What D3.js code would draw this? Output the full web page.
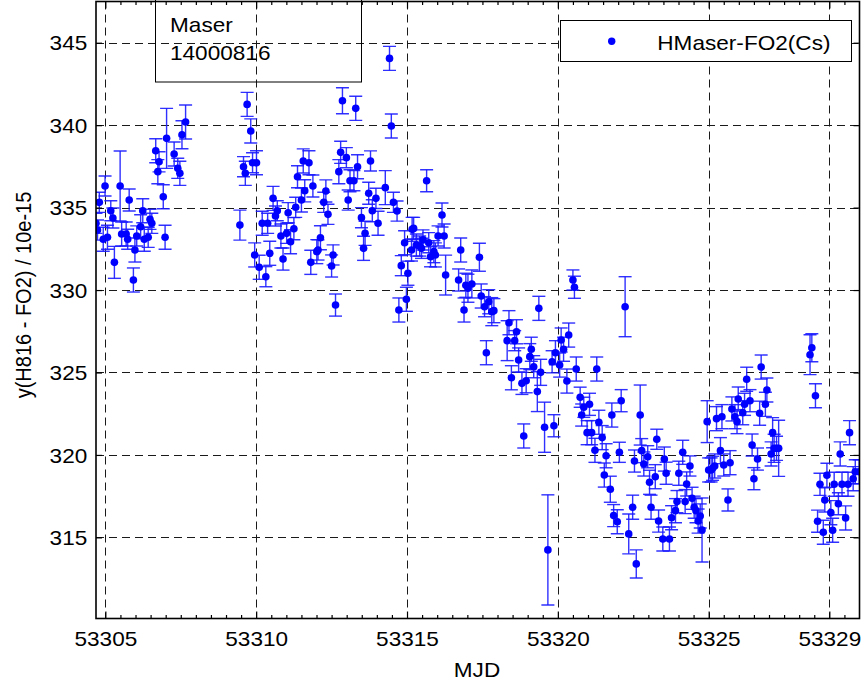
<!DOCTYPE html>
<html>
<head>
<meta charset="utf-8">
<script src="https://cdn.jsdelivr.net/npm/d3@7"></script>
<style>
  body { margin: 0; background: #fff; }
  svg { display: block; }
  text { font-family: "Liberation Sans", Arial, Helvetica, sans-serif; fill: #000; }
</style>
</head>
<body>
<svg id="chart" width="864" height="686"></svg>
<script>
// Observation epochs (MJD)
const mjd = [
  53304.69, 53304.74, 53304.80, 53304.93, 53304.99, 53305.07, 53305.18, 53305.25, 53305.30, 53305.49,
  53305.54, 53305.69, 53305.74, 53305.79, 53305.93, 53305.98, 53306.04, 53306.17, 53306.24, 53306.29,
  53306.42, 53306.48, 53306.54, 53306.67, 53306.74, 53306.78, 53306.92, 53306.98, 53307.03, 53307.28,
  53307.40, 53307.47, 53307.54, 53307.66, 53309.46, 53309.58, 53309.64, 53309.70, 53309.82, 53309.88,
  53309.95, 53310.01, 53310.10, 53310.20, 53310.32, 53310.38, 53310.45, 53310.56, 53310.64, 53310.70,
  53310.82, 53310.89, 53311.01, 53311.06, 53311.14, 53311.25, 53311.31, 53311.37, 53311.50, 53311.56,
  53311.61, 53311.75, 53311.81, 53311.88, 53312.01, 53312.05, 53312.13, 53312.24, 53312.31, 53312.38,
  53312.50, 53312.55, 53312.63, 53312.74, 53312.80, 53312.86, 53312.99, 53313.05, 53313.11, 53313.24,
  53313.30, 53313.36, 53313.49, 53313.56, 53313.61, 53313.73, 53313.79, 53313.85, 53313.97, 53314.04,
  53314.28, 53314.42, 53314.48, 53314.55, 53314.67, 53314.73, 53314.81, 53314.92, 53314.98, 53315.03,
  53315.17, 53315.15, 53315.22, 53315.31, 53315.42, 53315.48, 53315.53, 53315.65, 53315.72, 53315.78,
  53315.89, 53315.94, 53316.03, 53316.16, 53316.23, 53316.28, 53316.71, 53316.78, 53316.89, 53316.95,
  53317.02, 53317.15, 53317.40, 53317.46, 53317.57, 53317.63, 53317.71, 53317.81, 53317.88, 53318.32,
  53318.38, 53318.46, 53318.57, 53318.63, 53318.70, 53318.81, 53318.87, 53318.95, 53319.07, 53319.12,
  53319.20, 53319.32, 53319.37, 53319.43, 53319.56, 53319.67, 53319.81, 53319.87, 53319.92, 53320.06,
  53320.11, 53320.19, 53320.30, 53320.36, 53320.50, 53320.55, 53320.61, 53320.74, 53320.79, 53320.86,
  53320.97, 53321.05, 53321.12, 53321.23, 53321.29, 53321.36, 53321.47, 53321.54, 53321.60, 53321.74,
  53321.79, 53321.85, 53321.97, 53322.04, 53322.10, 53322.23, 53322.35, 53322.48, 53322.54, 53322.60,
  53322.73, 53322.78, 53322.85, 53322.98, 53323.04, 53323.09, 53323.23, 53323.28, 53323.34, 53323.48,
  53323.53, 53323.59, 53323.70, 53323.77, 53323.90, 53323.95, 53324.01, 53324.14, 53324.22, 53324.27,
  53324.38, 53324.45, 53324.52, 53324.58, 53324.65, 53324.72, 53324.78, 53324.95, 53325.00, 53325.08,
  53325.13, 53325.20, 53325.26, 53325.39, 53325.44, 53325.50, 53325.64, 53325.71, 53325.77, 53325.87,
  53325.94, 53325.98, 53326.13, 53326.19, 53326.26, 53326.37, 53326.44, 53326.50, 53326.62, 53326.69,
  53326.74, 53326.88, 53326.93, 53327.07, 53327.12, 53327.17, 53327.25, 53327.32, 53328.36, 53328.42,
  53328.54, 53328.61, 53328.69, 53328.80, 53328.85, 53328.92, 53329.05, 53329.11, 53329.16, 53329.30,
  53329.36, 53329.42, 53329.54, 53329.62, 53329.67, 53329.79, 53329.86, 53329.99
];

// Fractional frequency offset H816 - FO2, in units of 1e-15
const dev = [
  334.05, 333.64, 335.32, 333.08, 336.31, 333.20, 334.81, 334.37, 331.68, 336.31,
  333.40, 333.40, 333.08, 335.46, 330.61, 332.43, 333.28, 333.84, 334.81, 333.08,
  333.20, 334.29, 334.05, 338.45, 337.18, 337.78, 335.66, 333.20, 339.20, 338.25,
  337.38, 337.08, 339.42, 340.19, 333.94, 337.48, 337.08, 341.26, 339.65, 337.72,
  332.13, 337.72, 331.38, 334.05, 330.81, 334.05, 332.23, 335.56, 334.49, 334.81,
  333.28, 331.88, 333.44, 334.69, 332.93, 333.72, 335.02, 336.87, 335.46, 337.83,
  336.02, 337.72, 331.68, 336.31, 332.33, 332.43, 333.17, 335.32, 336.01, 334.59,
  331.46, 332.13, 329.09, 337.18, 338.35, 341.48, 338.03, 335.46, 336.63, 336.63,
  341.02, 337.48, 334.39, 332.53, 333.44, 335.87, 337.83, 334.81, 335.56, 334.05,
  336.21, 344.05, 339.95, 335.32, 334.79, 328.79, 331.48, 332.87, 329.44, 331.02,
  333.68, 332.43, 333.74, 332.73, 332.67, 332.53, 333.04, 336.63, 332.87, 332.02,
  332.33, 332.13, 333.28, 334.55, 333.28, 330.91, 330.61, 332.43, 328.79, 330.29,
  330.11, 330.37, 331.99, 329.64, 328.99, 326.20, 329.29, 328.69, 328.75, 326.93,
  328.02, 324.68, 326.93, 327.47, 325.76, 324.34, 321.15, 324.50, 325.96, 326.41,
  325.35, 323.84, 328.89, 325.01, 321.68, 314.24, 325.65, 321.77, 326.20, 325.45,
  326.97, 326.41, 324.48, 327.27, 330.61, 330.17, 325.21, 323.50, 322.42, 322.89,
  321.35, 323.07, 321.35, 320.28, 325.21, 321.98, 321.05, 318.78, 319.95, 317.92,
  322.42, 316.32, 315.95, 320.16, 323.29, 328.99, 315.21, 316.83, 319.63, 313.39,
  322.42, 320.26, 319.45, 319.89, 318.34, 316.83, 318.68, 320.95, 315.99, 314.90,
  319.75, 318.89, 314.90, 316.19, 316.62, 317.17, 318.89, 320.16, 317.17, 318.24,
  319.33, 317.37, 316.83, 316.62, 315.99, 316.30, 315.45, 322.02, 319.09, 319.09,
  319.19, 319.33, 322.20, 320.26, 322.32, 319.39, 317.27, 319.53, 322.79, 322.32,
  322.02, 323.39, 322.56, 323.07, 324.59, 323.29, 320.60, 318.56, 319.75, 322.53,
  325.33, 323.07, 323.94, 320.06, 321.35, 320.40, 320.40, 320.40, 326.08, 326.50,
  323.59, 315.98, 318.22, 315.31, 317.27, 318.77, 316.50, 315.43, 318.22, 317.04,
  320.06, 318.22, 316.18, 318.22, 321.35, 318.56, 318.98, 318.98
];

// One-sigma uncertainty of each value (1e-15)
const err = [
  0.61, 0.61, 0.61, 0.73, 0.61, 0.73, 0.61, 0.61, 0.97, 2.12,
  0.73, 0.73, 0.61, 0.67, 0.73, 0.73, 0.61, 0.73, 0.73, 0.73,
  0.61, 0.61, 0.61, 0.73, 0.73, 0.61, 0.73, 0.73, 1.82, 0.73,
  0.61, 0.73, 0.85, 1.03, 0.91, 0.61, 0.73, 0.73, 0.73, 0.61,
  0.73, 0.73, 0.73, 0.73, 0.61, 0.61, 0.73, 0.73, 0.61, 0.61,
  0.73, 0.67, 0.61, 0.61, 0.73, 0.67, 0.61, 0.67, 0.73, 0.73,
  0.67, 0.73, 0.73, 0.67, 0.73, 0.61, 0.73, 0.61, 0.67, 0.61,
  0.67, 0.61, 0.67, 0.73, 0.67, 0.79, 0.61, 0.61, 0.67, 0.61,
  0.73, 0.73, 0.61, 0.73, 0.73, 0.67, 0.61, 0.67, 0.61, 0.73,
  1.03, 0.73, 0.73, 0.61, 0.61, 0.73, 0.61, 0.73, 0.73, 0.73,
  0.73, 0.67, 0.67, 0.67, 0.61, 0.61, 0.61, 0.67, 0.61, 0.61,
  0.67, 0.73, 0.61, 0.73, 0.73, 1.21, 0.67, 0.73, 0.73, 0.73,
  0.85, 0.85, 0.85, 0.73, 0.61, 0.73, 0.73, 0.85, 0.73, 1.21,
  0.73, 0.73, 0.61, 0.73, 0.73, 0.67, 0.73, 0.73, 0.79, 0.73,
  0.67, 1.21, 0.73, 0.79, 1.52, 3.34, 0.67, 0.67, 0.73, 0.73,
  0.73, 0.73, 0.73, 0.73, 0.61, 0.67, 0.73, 0.61, 0.67, 0.61,
  0.73, 0.67, 0.73, 0.73, 0.73, 0.73, 0.73, 0.73, 0.73, 0.79,
  0.73, 0.67, 0.73, 0.61, 0.67, 1.82, 1.21, 0.73, 0.67, 0.85,
  1.82, 0.73, 0.73, 0.67, 0.73, 0.73, 0.73, 0.61, 0.67, 0.73,
  0.73, 0.67, 0.73, 0.73, 0.73, 0.67, 0.73, 0.73, 0.73, 0.73,
  0.61, 0.67, 0.67, 0.73, 0.73, 0.73, 1.94, 1.27, 0.73, 0.73,
  0.73, 0.73, 0.73, 0.79, 0.73, 0.67, 0.67, 0.73, 0.73, 0.73,
  0.73, 0.73, 0.73, 0.67, 0.73, 0.67, 0.67, 0.67, 0.67, 0.73,
  0.73, 0.73, 0.73, 0.73, 0.91, 0.85, 0.73, 1.70, 1.21, 0.85,
  0.73, 0.67, 0.67, 0.73, 0.73, 0.73, 0.73, 0.73, 0.73, 0.67,
  0.73, 0.73, 0.73, 0.73, 0.73, 0.73, 0.73, 0.73
];

// Axis ticks and labels
const xTicks = [53305, 53310, 53315, 53320, 53325, 53329];
const xTickLabels = ["53305", "53310", "53315", "53320", "53325", "53329"];
const yTicks = [315, 320, 325, 330, 335, 340, 345];
const xDomain = [53304.69, 53330.0];
const yDomain = [310.08, 347.5];

const seriesName = "HMaser-FO2(Cs)";
const noteLines = ["Maser", "14000816"];
const xTitle = "MJD";
const yTitle = "y(H816 - FO2) / 10e-15";

// ---------------------------------------------------------------
const svg = d3.select("#chart");
const plot = { left: 96, right: 859.5, top: 1.5, bottom: 618.5 };
const SX = 1.13;          // horizontal glyph stretch of the text
const FS = 20;            // font size
const BLUE = "#0000ff";

const x = d3.scaleLinear().domain(xDomain).range([plot.left, plot.right]);
const y = d3.scaleLinear().domain(yDomain).range([plot.bottom, plot.top]);

// minor x ticks every half day
const xMinor = d3.range(53305, 53330, 0.5).filter(v => !xTicks.includes(v));

svg.append("rect").attr("width", 864).attr("height", 686).attr("fill", "#fff");

svg.append("defs").append("clipPath").attr("id", "plotclip")
  .append("rect")
  .attr("x", plot.left).attr("y", plot.top)
  .attr("width", plot.right - plot.left).attr("height", plot.bottom - plot.top);

// dashed grid
const grid = svg.append("g").attr("stroke", "#1a1a1a").attr("stroke-width", 1)
  .attr("stroke-dasharray", "8,5").attr("fill", "none");
grid.selectAll("line.gx").data(xTicks).join("line")
  .attr("x1", d => Math.round(x(d)) + 0.5).attr("x2", d => Math.round(x(d)) + 0.5)
  .attr("y1", plot.top).attr("y2", plot.bottom);
grid.selectAll("line.gy").data(yTicks).join("line")
  .attr("class", "gy")
  .attr("x1", plot.left).attr("x2", plot.right)
  .attr("y1", d => Math.round(y(d)) + 0.5).attr("y2", d => Math.round(y(d)) + 0.5);

// note box (transparent)
const note = svg.append("g");
note.append("rect")
  .attr("x", 155.5).attr("y", -2).attr("width", 206).attr("height", 84)
  .attr("fill", "none").attr("stroke", "#000").attr("stroke-width", 1);
noteLines.forEach((t, i) => {
  note.append("text")
    .attr("transform", `translate(170,${31.5 + i * 28.5}) scale(${SX},1)`)
    .attr("font-size", FS).text(t);
});

// error bars and points
const data = mjd.map((m, i) => ({ m, v: dev[i], e: err[i] }));
const marks = svg.append("g").attr("clip-path", "url(#plotclip)");
const cap = 6.5;
const eb = marks.append("g").attr("stroke", "#1a1aff").attr("stroke-width", 1.4)
  .attr("stroke-opacity", 0.9);
eb.selectAll("line.stem").data(data).join("line")
  .attr("x1", d => x(d.m)).attr("x2", d => x(d.m))
  .attr("y1", d => y(d.v - d.e)).attr("y2", d => y(d.v + d.e));
eb.selectAll("line.top").data(data).join("line")
  .attr("class", "top")
  .attr("x1", d => x(d.m) - cap).attr("x2", d => x(d.m) + cap)
  .attr("y1", d => y(d.v + d.e)).attr("y2", d => y(d.v + d.e));
eb.selectAll("line.bot").data(data).join("line")
  .attr("class", "bot")
  .attr("x1", d => x(d.m) - cap).attr("x2", d => x(d.m) + cap)
  .attr("y1", d => y(d.v - d.e)).attr("y2", d => y(d.v - d.e));
marks.append("g").selectAll("circle").data(data).join("circle")
  .attr("cx", d => x(d.m)).attr("cy", d => y(d.v)).attr("r", 3.8)
  .attr("fill", BLUE);

// axes: ticks point into the plot
function styleAxis(g) {
  g.select(".domain").remove();
  g.selectAll(".tick line").attr("stroke", "#000").attr("stroke-width", 1.2);
}
const axB = d3.axisBottom(x).tickValues(xTicks).tickSizeInner(-7).tickSizeOuter(0)
  .tickFormat((d, i) => xTickLabels[i]);
const gB = svg.append("g").attr("transform", `translate(0,${plot.bottom})`).call(axB);
styleAxis(gB);
gB.selectAll(".tick text")
  .attr("y", 28).attr("dy", 0)
  .attr("transform", `scale(${SX},1)`)
  .attr("font-size", FS).attr("font-family", null).attr("fill", "#000");

const gBm = svg.append("g").attr("transform", `translate(0,${plot.bottom})`)
  .call(d3.axisBottom(x).tickValues(xMinor).tickSizeInner(-3.5).tickSizeOuter(0).tickFormat(""));
styleAxis(gBm);

const gT = svg.append("g").attr("transform", `translate(0,${plot.top})`)
  .call(d3.axisTop(x).tickValues(xTicks).tickSizeInner(-7).tickSizeOuter(0).tickFormat(""));
styleAxis(gT);
const gTm = svg.append("g").attr("transform", `translate(0,${plot.top})`)
  .call(d3.axisTop(x).tickValues(xMinor).tickSizeInner(-3.5).tickSizeOuter(0).tickFormat(""));
styleAxis(gTm);

const gL = svg.append("g").attr("transform", `translate(${plot.left},0)`)
  .call(d3.axisLeft(y).tickValues(yTicks).tickSizeInner(-6).tickSizeOuter(0).tickFormat(d3.format("d")));
styleAxis(gL);
gL.selectAll(".tick text")
  .attr("x", -8.7 / SX).attr("dy", "0.36em")
  .attr("transform", `scale(${SX},1)`)
  .attr("font-size", FS).attr("font-family", null).attr("fill", "#000");

const gR = svg.append("g").attr("transform", `translate(${plot.right},0)`)
  .call(d3.axisRight(y).tickValues(yTicks).tickSizeInner(-6).tickSizeOuter(0).tickFormat(""));
styleAxis(gR);

// frame
svg.append("rect")
  .attr("x", plot.left).attr("y", plot.top)
  .attr("width", plot.right - plot.left).attr("height", plot.bottom - plot.top)
  .attr("fill", "none").attr("stroke", "#000").attr("stroke-width", 1.6);

// legend
const lg = svg.append("g");
lg.append("rect").attr("x", 560.5).attr("y", 20.5).attr("width", 291).attr("height", 41)
  .attr("fill", "#fff").attr("stroke", "#000").attr("stroke-width", 1);
lg.append("circle").attr("cx", 611.7).attr("cy", 41.3).attr("r", 3.7).attr("fill", BLUE);
lg.append("text")
  .attr("transform", `translate(657.3,49.5) scale(${SX},1)`)
  .attr("font-size", FS).text(seriesName);

// axis titles
svg.append("text")
  .attr("transform", `translate(477,676.5) scale(${SX},1)`)
  .attr("text-anchor", "middle").attr("font-size", FS).text(xTitle);
svg.append("text")
  .attr("transform", `translate(30.5,295) scale(${SX},1) rotate(-90)`)
  .attr("text-anchor", "middle").attr("font-size", FS).text(yTitle);
</script>
</body>
</html>
